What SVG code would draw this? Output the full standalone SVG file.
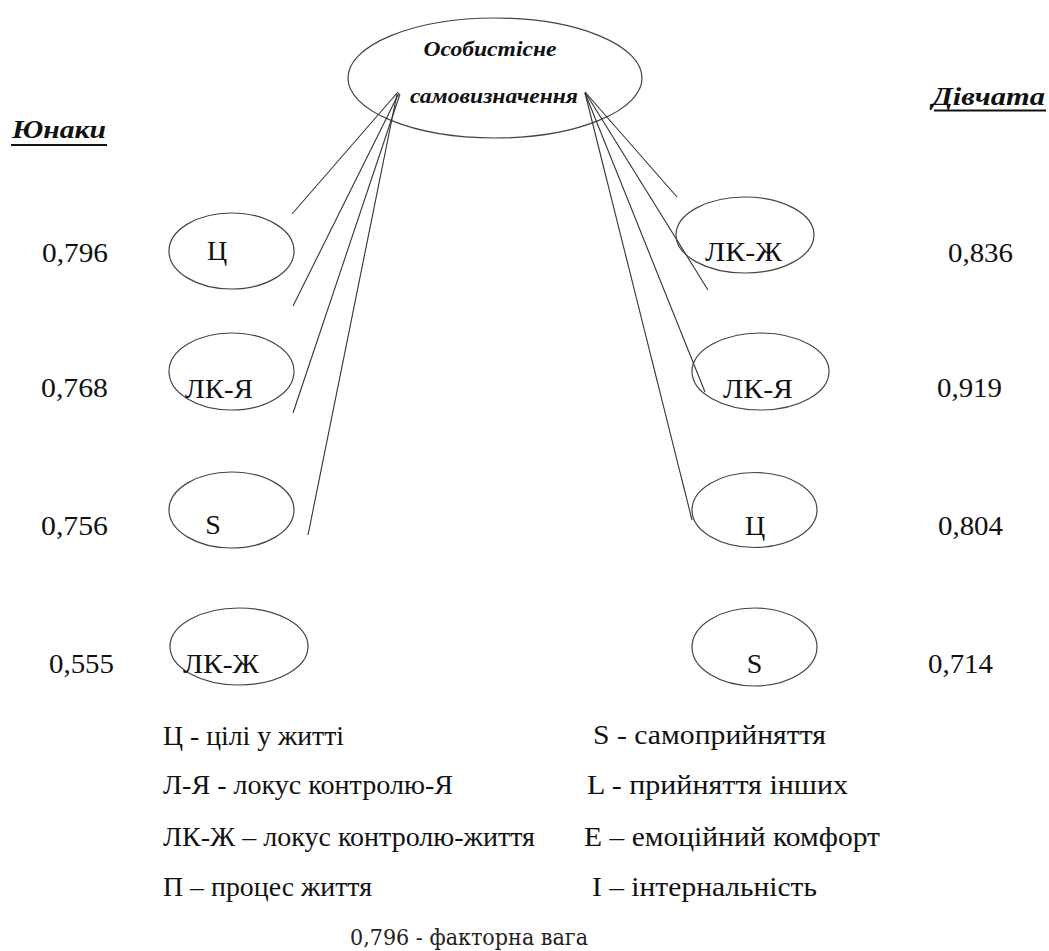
<svg xmlns="http://www.w3.org/2000/svg" width="1049" height="951" viewBox="0 0 1049 951">
<style>
  .ell { fill: none; stroke: #444; stroke-width: 1.2; }
  .con line { stroke: #333; stroke-width: 1.1; }
  .t { font-family: "Liberation Serif", "Times New Roman", serif; font-size: 28px; fill: #111; }
  .bi { font-family: "Liberation Serif", "Times New Roman", serif; font-weight: bold; font-style: italic; fill: #111; }
  .ul { stroke: #111; stroke-width: 2.2; }
  .f { font-family: "DejaVu Serif", serif; font-size: 23px; fill: #222; }
</style>
<rect width="1049" height="951" fill="#fff"/>

<g id="root">
  <ellipse class="ell" cx="495" cy="78" rx="147" ry="60"/>
  <text class="bi" x="490" y="56" font-size="21" text-anchor="middle" textLength="133" lengthAdjust="spacingAndGlyphs">Особистісне</text>
  <text class="bi" x="494" y="103" font-size="21" text-anchor="middle" textLength="168" lengthAdjust="spacingAndGlyphs">самовизначення</text>
</g>

<g id="heading-boys">
  <text class="bi" x="12" y="138" font-size="25" textLength="94" lengthAdjust="spacingAndGlyphs">Юнаки</text>
  <line class="ul" x1="11" y1="145" x2="107" y2="145"/>
</g>
<g id="heading-girls">
  <text class="bi" x="932" y="105" font-size="25" textLength="113" lengthAdjust="spacingAndGlyphs">Дівчата</text>
  <line class="ul" x1="934" y1="110.5" x2="1046" y2="110.5"/>
</g>

<g id="connectors" class="con">
  <line x1="398" y1="92" x2="292" y2="214"/>
  <line x1="399" y1="93" x2="293" y2="306"/>
  <line x1="400" y1="94" x2="293" y2="413"/>
  <line x1="397" y1="94" x2="308" y2="535"/>
  <line x1="585" y1="92" x2="677" y2="197"/>
  <line x1="585" y1="92" x2="708" y2="290"/>
  <line x1="585" y1="93" x2="705" y2="392"/>
  <line x1="585" y1="93" x2="692" y2="520"/>
</g>

<g id="boys-C">
  <ellipse class="ell" cx="231.5" cy="251" rx="62.5" ry="38"/>
  <text class="t" x="217" y="260" text-anchor="middle">Ц</text>
  <text class="t" x="42" y="262" textLength="66" lengthAdjust="spacingAndGlyphs">0,796</text>
</g>
<g id="boys-LKYa">
  <ellipse class="ell" cx="231.5" cy="371.5" rx="62.5" ry="38.5"/>
  <text class="t" x="185" y="398" textLength="68" lengthAdjust="spacingAndGlyphs">ЛК-Я</text>
  <text class="t" x="41" y="397" textLength="67" lengthAdjust="spacingAndGlyphs">0,768</text>
</g>
<g id="boys-S">
  <ellipse class="ell" cx="231.5" cy="510" rx="62.5" ry="38"/>
  <text class="t" x="213" y="534" text-anchor="middle">S</text>
  <text class="t" x="41" y="535" textLength="67" lengthAdjust="spacingAndGlyphs">0,756</text>
</g>
<g id="boys-LKZh">
  <ellipse class="ell" cx="239" cy="646.5" rx="69" ry="38.5"/>
  <text class="t" x="183" y="673" textLength="76" lengthAdjust="spacingAndGlyphs">ЛК-Ж</text>
  <text class="t" x="49" y="673" textLength="65" lengthAdjust="spacingAndGlyphs">0,555</text>
</g>

<g id="girls-LKZh">
  <ellipse class="ell" cx="745" cy="235" rx="69" ry="38"/>
  <text class="t" x="705" y="261" textLength="77" lengthAdjust="spacingAndGlyphs">ЛК-Ж</text>
  <text class="t" x="948" y="262" textLength="65" lengthAdjust="spacingAndGlyphs">0,836</text>
</g>
<g id="girls-LKYa">
  <ellipse class="ell" cx="760.5" cy="371.5" rx="68.5" ry="38.5"/>
  <text class="t" x="723" y="398" textLength="70" lengthAdjust="spacingAndGlyphs">ЛК-Я</text>
  <text class="t" x="937" y="397" textLength="65" lengthAdjust="spacingAndGlyphs">0,919</text>
</g>
<g id="girls-C">
  <ellipse class="ell" cx="754.5" cy="510" rx="62.5" ry="37.5"/>
  <text class="t" x="755" y="535" text-anchor="middle">Ц</text>
  <text class="t" x="938" y="535" textLength="65" lengthAdjust="spacingAndGlyphs">0,804</text>
</g>
<g id="girls-S">
  <ellipse class="ell" cx="754.5" cy="647" rx="62.5" ry="39"/>
  <text class="t" x="754.5" y="673" text-anchor="middle">S</text>
  <text class="t" x="928" y="673" textLength="65" lengthAdjust="spacingAndGlyphs">0,714</text>
</g>

<g id="legend">
  <text class="t" x="163" y="745" textLength="181" lengthAdjust="spacingAndGlyphs">Ц - цілі у житті</text>
  <text class="t" x="163" y="794" textLength="290" lengthAdjust="spacingAndGlyphs">Л-Я - локус контролю-Я</text>
  <text class="t" x="163" y="846" textLength="372" lengthAdjust="spacingAndGlyphs">ЛК-Ж – локус контролю-життя</text>
  <text class="t" x="163" y="896" textLength="209" lengthAdjust="spacingAndGlyphs">П – процес життя</text>
  <text class="t" x="593" y="744" textLength="233" lengthAdjust="spacingAndGlyphs">S - самоприйняття</text>
  <text class="t" x="587" y="794" textLength="261" lengthAdjust="spacingAndGlyphs">L - прийняття інших</text>
  <text class="t" x="584" y="846" textLength="296" lengthAdjust="spacingAndGlyphs">E – емоційний комфорт</text>
  <text class="t" x="592" y="896" textLength="225" lengthAdjust="spacingAndGlyphs">I – інтернальність</text>
  <text class="f" x="350" y="945" textLength="238" lengthAdjust="spacingAndGlyphs">0,796 - факторна вага</text>
</g>
</svg>
